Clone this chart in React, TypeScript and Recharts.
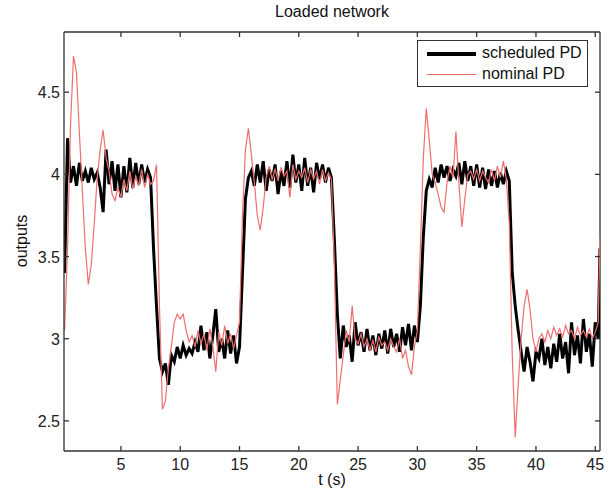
import { LineChart, Line, XAxis, YAxis, ReferenceLine } from "recharts";

// sample times (s)
const time = [
  0.25, 0.5, 0.75, 1, 1.25, 1.5, 1.75, 2,
  2.25, 2.5, 2.75, 3, 3.25, 3.5, 3.75, 4,
  4.25, 4.5, 4.75, 5, 5.25, 5.5, 5.75, 6,
  6.25, 6.5, 6.75, 7, 7.25, 7.5, 7.75, 8,
  8.25, 8.5, 8.75, 9, 9.25, 9.5, 9.75, 10,
  10.25, 10.5, 10.75, 11, 11.25, 11.5, 11.75, 12,
  12.25, 12.5, 12.75, 13, 13.25, 13.5, 13.75, 14,
  14.25, 14.5, 14.75, 15, 15.25, 15.5, 15.75, 16,
  16.25, 16.5, 16.75, 17, 17.25, 17.5, 17.75, 18,
  18.25, 18.5, 18.75, 19, 19.25, 19.5, 19.75, 20,
  20.25, 20.5, 20.75, 21, 21.25, 21.5, 21.75, 22,
  22.25, 22.5, 22.75, 23, 23.25, 23.5, 23.75, 24,
  24.25, 24.5, 24.75, 25, 25.25, 25.5, 25.75, 26,
  26.25, 26.5, 26.75, 27, 27.25, 27.5, 27.75, 28,
  28.25, 28.5, 28.75, 29, 29.25, 29.5, 29.75, 30,
  30.25, 30.5, 30.75, 31, 31.25, 31.5, 31.75, 32,
  32.25, 32.5, 32.75, 33, 33.25, 33.5, 33.75, 34,
  34.25, 34.5, 34.75, 35, 35.25, 35.5, 35.75, 36,
  36.25, 36.5, 36.75, 37, 37.25, 37.5, 37.75, 38,
  38.25, 38.5, 38.75, 39, 39.25, 39.5, 39.75, 40,
  40.25, 40.5, 40.75, 41, 41.25, 41.5, 41.75, 42,
  42.25, 42.5, 42.75, 43, 43.25, 43.5, 43.75, 44,
  44.25, 44.5, 44.75, 45, 45.25, 45.4,
];

const scheduledPD = [
  3.4, 4.22, 3.95, 4.05, 3.93, 4.07, 3.96, 4.02,
  3.95, 4.04, 3.97, 4.01, 3.92, 3.77, 4.15, 3.94,
  4.08, 3.9, 4.06, 3.86, 4.05, 3.89, 4.1, 3.92,
  4.07, 3.94, 4.06, 3.95, 4.03, 3.98, 3.55, 3.2,
  2.88, 2.8, 2.85, 2.72, 2.9, 2.86, 2.95, 2.88,
  2.96, 2.9, 2.94, 2.91, 2.98, 2.92, 3.08, 2.93,
  3.04, 2.88, 3.02, 3.18, 2.92, 3.0, 2.88, 3.05,
  2.91, 3.02, 2.85, 2.95, 3.4, 3.85, 3.98, 4.02,
  3.93, 4.06, 3.95, 4.08, 3.9, 4.03, 3.96, 4.06,
  3.88, 4.02, 3.93, 4.08, 3.92, 4.12, 3.95, 4.06,
  3.9, 4.1, 3.93, 4.04, 3.89, 4.07, 3.97, 4.06,
  3.95, 4.04, 3.98, 3.6, 3.15, 2.88, 3.08, 2.95,
  3.02, 2.86, 3.1, 2.96, 3.04, 2.92, 3.06, 2.93,
  3.02, 2.9, 3.03, 2.94, 3.05, 2.91, 3.06, 2.95,
  3.03, 2.92, 3.07, 2.96, 3.09, 2.93, 3.08, 2.98,
  3.2, 3.62, 3.9, 3.97, 3.92, 4.04, 3.95, 4.06,
  3.98, 4.05, 3.96, 4.03, 3.99, 4.07, 3.94, 4.08,
  3.96, 4.05, 3.93, 4.06, 3.92, 4.04, 3.91, 4.03,
  3.93, 4.02, 3.92, 4.01, 3.94, 4.02, 3.96, 3.4,
  3.2, 3.05, 2.92, 2.8, 2.95, 2.86, 2.74, 2.92,
  2.88, 3.0, 2.84, 2.95, 2.82, 2.97, 2.86, 3.03,
  2.88, 2.98, 2.79, 3.1, 2.9, 3.02, 2.85, 3.12,
  2.92, 3.03, 2.83, 3.1, 3.0, 3.55,
];

const nominalPD = [
  3.05, 3.55, 4.3, 4.72, 4.62, 4.25, 3.9, 3.55,
  3.33, 3.45, 3.7, 3.98, 4.15, 4.27, 4.1, 4.02,
  3.88, 3.84, 3.92, 3.86, 3.97, 3.9, 4.02, 3.91,
  3.99, 3.93, 4.03, 3.92, 4.0, 3.94, 3.96, 4.06,
  3.2, 2.57, 2.62, 2.82, 2.95, 3.1, 3.15, 3.12,
  3.15, 3.05, 2.98, 3.02, 2.95, 3.05, 2.97, 3.03,
  2.93, 3.06, 2.95, 2.8, 3.04, 2.96, 3.08, 2.97,
  3.03, 2.94, 3.02, 3.1, 3.75, 4.15, 4.28, 4.12,
  3.95, 3.75, 3.66, 3.8, 3.98, 4.05, 3.97, 4.03,
  3.96, 4.04, 3.99, 4.02, 3.86, 4.06, 3.97, 4.02,
  3.98, 4.04, 3.95, 4.03, 3.97, 4.02, 3.94, 4.03,
  3.96, 4.01, 3.97, 3.45, 2.6, 2.75, 2.9, 3.05,
  2.98, 3.2, 3.0, 2.97, 3.03, 2.95, 3.0, 2.93,
  2.99, 2.92, 3.01, 2.96, 2.98, 2.93, 3.0, 2.95,
  2.92, 3.0, 2.88, 2.93, 2.83, 2.78, 2.95, 3.05,
  3.55, 4.1, 4.4, 4.21, 4.0, 3.95, 3.88, 3.8,
  3.77, 3.95, 4.05, 3.98, 4.26, 3.95, 3.68, 3.85,
  4.0, 4.02, 3.97, 4.03, 3.96, 4.02, 3.98, 3.95,
  4.03, 3.96, 4.05, 3.98, 4.08, 3.97, 3.7, 2.9,
  2.4, 2.72, 3.0, 3.2, 3.3, 3.18, 3.0, 2.92,
  3.0, 3.03, 2.98, 3.05, 3.0, 3.07, 3.02, 3.06,
  3.01, 3.08, 3.03, 3.05, 3.0, 3.07, 3.02, 3.05,
  3.01, 3.06, 3.0, 3.04, 3.1, 3.62,
];

const xTicks = [5, 10, 15, 20, 25, 30, 35, 40, 45];
const yTicks = [2.5, 3, 3.5, 4, 4.5];
const xMin = 0.2;
const xMax = 45.4;
const yMin = 2.317;
const yMax = 4.866;

const data = time.map((t, i) => ({
  t,
  scheduled: scheduledPD[i],
  nominal: nominalPD[i],
}));

const AXIS = "#333";
const RED = "#ef6f6f";
const FONT = "'Liberation Sans', Arial, sans-serif";
// plot box edges in px (fixed by the margins below)
const PLOT_TOP = 32;
const PLOT_RIGHT = 600;

// bottom labels + inward ticks on bottom and top edges (matlab box style)
const BottomTick = (props: any) => {
  const { x, y, payload } = props;
  return (
    <g>
      <line x1={x} y1={y} x2={x} y2={y - 5} stroke={AXIS} strokeWidth={1.3} />
      <line x1={x} y1={PLOT_TOP} x2={x} y2={PLOT_TOP + 5} stroke={AXIS} strokeWidth={1.3} />
      <text x={x} y={y + 19} textAnchor="middle" fontSize={16} fill="#222" fontFamily={FONT}>
        {payload.value}
      </text>
    </g>
  );
};

const LeftTick = (props: any) => {
  const { x, y, payload } = props;
  return (
    <g>
      <line x1={x} y1={y} x2={x + 5} y2={y} stroke={AXIS} strokeWidth={1.3} />
      <line x1={PLOT_RIGHT} y1={y} x2={PLOT_RIGHT - 5} y2={y} stroke={AXIS} strokeWidth={1.3} />
      <text x={x - 4} y={y + 6} textAnchor="end" fontSize={16} fill="#222" fontFamily={FONT}>
        {payload.value}
      </text>
    </g>
  );
};

export default function App() {
  return (
    <div style={{ position: "absolute", left: 0, top: 0, width: 616, height: 495, background: "#fff", fontFamily: FONT }}>
      <LineChart width={616} height={495} data={data} margin={{ top: 32, right: 16, bottom: 0, left: 0 }}>
        <XAxis
          dataKey="t"
          type="number"
          domain={[xMin, xMax]}
          ticks={xTicks}
          allowDataOverflow
          height={44}
          tickSize={0}
          tickMargin={0}
          tick={<BottomTick />}
          axisLine={{ stroke: AXIS, strokeWidth: 1.3 }}
        />
        <YAxis
          type="number"
          domain={[yMin, yMax]}
          ticks={yTicks}
          allowDataOverflow
          width={64}
          tickSize={0}
          tickMargin={0}
          tick={<LeftTick />}
          axisLine={{ stroke: AXIS, strokeWidth: 1.3 }}
        />
        <ReferenceLine y={yMax} stroke={AXIS} strokeWidth={1.3} ifOverflow="visible" />
        <ReferenceLine x={xMax} stroke={AXIS} strokeWidth={1.3} ifOverflow="visible" />
        <Line
          dataKey="scheduled"
          type="linear"
          stroke="#000"
          strokeWidth={3}
          dot={false}
          isAnimationActive={false}
        />
        <Line
          dataKey="nominal"
          type="linear"
          stroke={RED}
          strokeWidth={1.2}
          dot={false}
          isAnimationActive={false}
        />
      </LineChart>

      <div style={{ position: "absolute", left: 0, width: 664, top: 3, textAlign: "center", fontSize: 16, color: "#111" }}>
        Loaded network
      </div>
      <div style={{ position: "absolute", left: 0, width: 664, top: 471, textAlign: "center", fontSize: 16, color: "#111" }}>
        t (s)
      </div>
      <div
        style={{
          position: "absolute",
          left: 22,
          top: 241,
          transform: "translate(-50%, -50%) rotate(-90deg)",
          fontSize: 16,
          color: "#111",
          whiteSpace: "nowrap",
        }}
      >
        outputs
      </div>

      <div
        style={{
          position: "absolute",
          left: 417,
          top: 40,
          width: 169,
          height: 45,
          border: `1px solid ${AXIS}`,
          background: "#fff",
          fontSize: 16,
          color: "#111",
        }}
      >
        <div style={{ position: "absolute", left: 9, top: 11, width: 49, height: 4, background: "#000" }} />
        <div style={{ position: "absolute", left: 64, top: 3, whiteSpace: "nowrap" }}>scheduled PD</div>
        <div style={{ position: "absolute", left: 9, top: 33, width: 49, height: 1, background: RED }} />
        <div style={{ position: "absolute", left: 64, top: 24, whiteSpace: "nowrap" }}>nominal PD</div>
      </div>
    </div>
  );
}
